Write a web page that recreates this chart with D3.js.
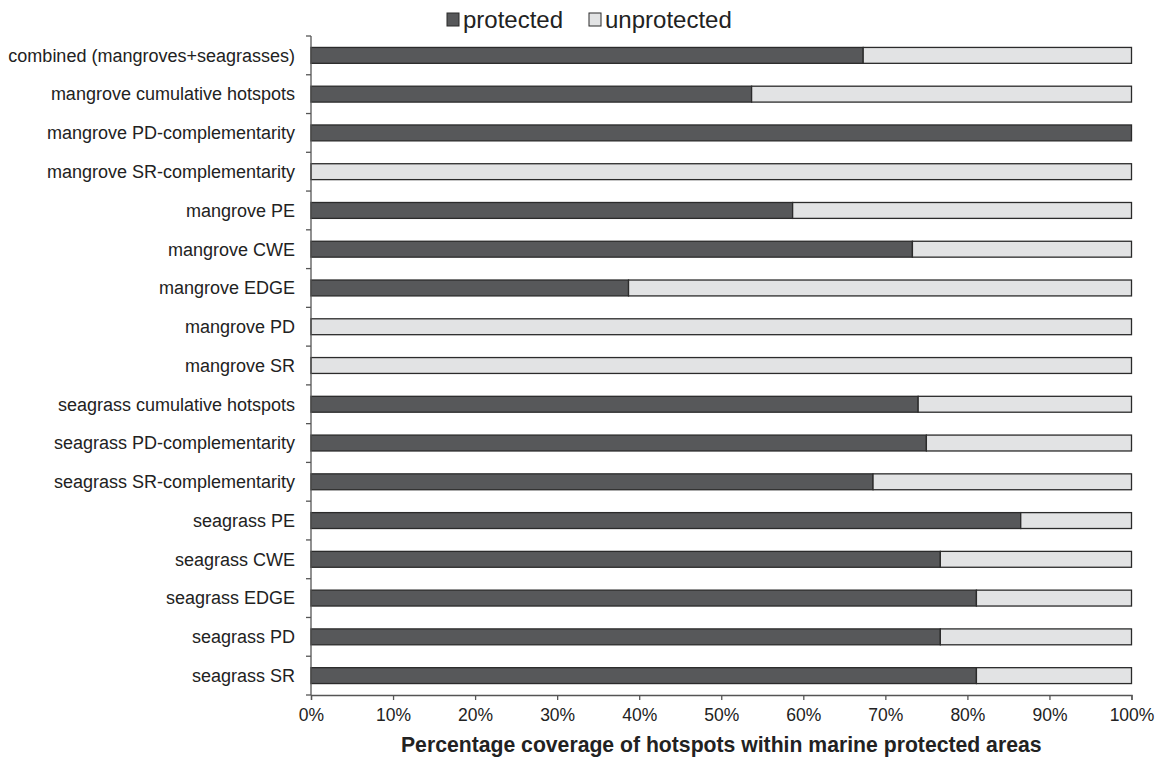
<!DOCTYPE html>
<html><head><meta charset="utf-8">
<script src="https://cdn.jsdelivr.net/npm/d3@7"></script>
<style>body{margin:0;background:#fff;} svg{display:block;font-family:"Liberation Sans",Arial,sans-serif;}</style>
</head><body>
<svg id="c" width="1158" height="758"></svg>
<script>
const categories = ["combined (mangroves+seagrasses)","mangrove cumulative hotspots","mangrove PD-complementarity","mangrove SR-complementarity","mangrove PE","mangrove CWE","mangrove EDGE","mangrove PD","mangrove SR","seagrass cumulative hotspots","seagrass PD-complementarity","seagrass SR-complementarity","seagrass PE","seagrass CWE","seagrass EDGE","seagrass PD","seagrass SR"];
const protectedPct = [67.3,53.7,100,0,58.7,73.3,38.7,0,0,74.0,75.0,68.5,86.5,76.7,81.1,76.7,81.1];
const unprotectedPct = protectedPct.map(v => 100 - v);
const xTicks = [0,10,20,30,40,50,60,70,80,90,100];
const seriesNames = ["protected","unprotected"];
const colors = {protected:"#57585a", unprotected:"#e2e3e4"};

const svg = d3.select("#c");
const m = {left:311, right:1131.5, top:36, bottom:695};
const x = d3.scaleLinear().domain([0,100]).range([m.left, m.right]);
const y = d3.scaleBand().domain(categories).range([m.top, m.bottom]).paddingInner(0.59).paddingOuter(0.295);

const rows = categories.map((c,i)=>({cat:c, protected:protectedPct[i], unprotected:unprotectedPct[i]}));
const stack = d3.stack().keys(seriesNames)(rows);

svg.append("g").selectAll("g").data(stack).join("g")
  .attr("fill", d => colors[d.key])
  .selectAll("rect").data(d => d.filter(p => p[1]-p[0] > 0)).join("rect")
  .attr("x", d => x(d[0])).attr("width", d => x(d[1]) - x(d[0]))
  .attr("y", d => y(d.data.cat)).attr("height", y.bandwidth())
  .attr("stroke", "#2b2b2b").attr("stroke-width", 1.3);

// x axis
const xa = svg.append("g").attr("transform", `translate(0,${m.bottom})`)
  .call(d3.axisBottom(x).tickValues(xTicks).tickFormat(d => d + "%").tickSize(5).tickPadding(9));
xa.select(".domain").attr("stroke","#555").attr("stroke-width",1.3);
xa.selectAll(".tick line").attr("stroke","#555").attr("stroke-width",1.3);
xa.selectAll("text").attr("font-size","17.5px").attr("fill","#222").attr("font-family","Liberation Sans, Arial, sans-serif");

// y axis
const ya = svg.append("g").attr("transform", `translate(${m.left},0)`);
ya.append("line").attr("x1",0).attr("x2",0).attr("y1",m.top).attr("y2",m.bottom).attr("stroke","#555").attr("stroke-width",1.3);
const bounds = d3.range(categories.length+1).map(i => m.top + i*y.step());
ya.selectAll("line.t").data(bounds).join("line").attr("class","t")
  .attr("x1",-5).attr("x2",0).attr("y1",d=>d).attr("y2",d=>d).attr("stroke","#555").attr("stroke-width",1.3);
ya.selectAll("text").data(categories).join("text")
  .attr("x",-16).attr("y", d => y(d) + y.bandwidth()/2).attr("dy","0.35em")
  .attr("text-anchor","end").attr("font-size","18px").attr("fill","#222").text(d=>d);

// x title
svg.append("text").attr("x",(m.left+m.right)/2).attr("y",752).attr("text-anchor","middle")
  .attr("font-size","21.2px").attr("font-weight","bold").attr("fill","#222")
  .text("Percentage coverage of hotspots within marine protected areas");

// legend
const leg = svg.append("g");
const legX = [447, 589];
seriesNames.forEach((k,i)=>{
  leg.append("rect").attr("x",legX[i]).attr("y",13).attr("width",12).attr("height",13)
    .attr("fill",colors[k]).attr("stroke","#2b2b2b").attr("stroke-width",1);
  leg.append("text").attr("x",legX[i]+16).attr("y",28).attr("font-size","24px").attr("fill","#222").text(k);
});
</script>
</body></html>
